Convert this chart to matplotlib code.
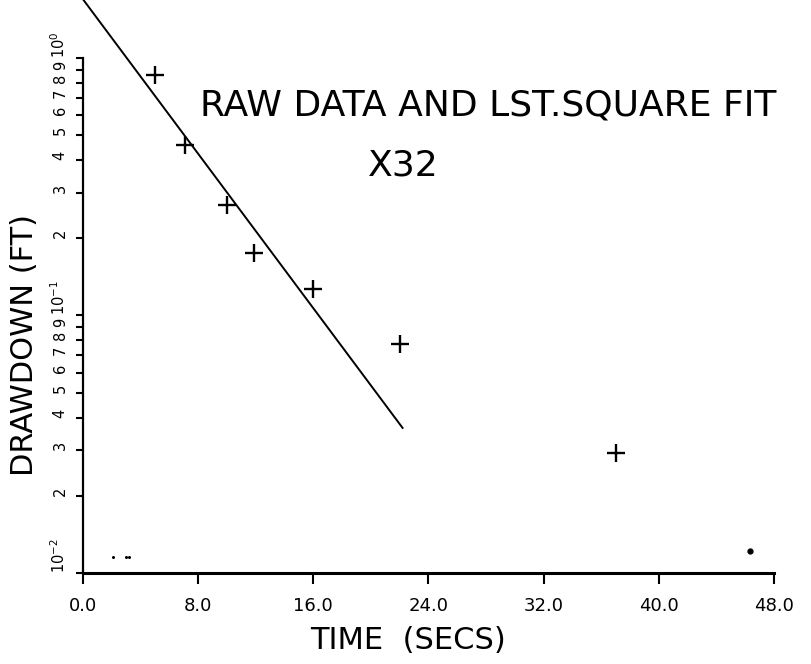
import matplotlib
matplotlib.use("Agg")
import matplotlib.pyplot as plt
from matplotlib.ticker import FixedLocator, FixedFormatter

# ---- data ----
time_s = [5.0, 7.1, 10.0, 11.9, 16.0, 22.0, 37.0]
drawdown_ft = [0.86, 0.46, 0.268, 0.175, 0.127, 0.0774, 0.0292]
dot_time = [46.3]
dot_drawdown = [0.0122]
speck_time = [2.1, 3.0, 3.2]
speck_drawdown = [0.0115, 0.0115, 0.0115]
fit_time = [0.0, 22.2]
fit_drawdown = [1.69, 0.0366]

x_ticks = [0, 8, 16, 24, 32, 40, 48]
x_tick_labels = ["0.0", "8.0", "16.0", "24.0", "32.0", "40.0", "48.0"]
y_major = [0.01, 0.1, 1.0]
y_major_labels = ["$10^{-2}$", "$10^{-1}$", "$10^{0}$"]
y_minor = [m * d for d in (0.01, 0.1) for m in range(2, 10)]
y_minor_labels = [str(m) for d in (0.01, 0.1) for m in range(2, 10)]

title_line1 = "RAW DATA AND LST.SQUARE FIT"
title_line2 = "X32"
x_label = "TIME  (SECS)"
y_label = "DRAWDOWN (FT)"

plt.rcParams['font.family'] = ['DejaVu Sans']

fig = plt.figure(figsize=(8.11, 6.64), dpi=100)
ax = fig.add_axes([0.1023, 0.137, 0.8521, 0.7757])

ax.plot(fit_time, fit_drawdown, color="black", lw=1.4, clip_on=False)
ax.plot(time_s, drawdown_ft, linestyle="none", marker="+", ms=13, mew=1.7, color="black")
ax.plot(dot_time, dot_drawdown, linestyle="none", marker="o", ms=3.5, color="black")
ax.plot(speck_time, speck_drawdown, linestyle="none", marker="o", ms=1.2, color="black")

ax.set_yscale("log")
ax.set_xlim(0, 48)
ax.set_ylim(0.01, 1.0)

ax.set_xticks(x_ticks)
ax.set_xticklabels(x_tick_labels, fontsize=13)
ax.yaxis.set_major_locator(FixedLocator(y_major))
ax.yaxis.set_major_formatter(FixedFormatter(y_major_labels))
ax.yaxis.set_minor_locator(FixedLocator(y_minor))
ax.yaxis.set_minor_formatter(FixedFormatter(y_minor_labels))
ax.tick_params(axis="x", which="major", direction="out", length=8, width=1.5, pad=9)
ax.tick_params(axis="y", which="both", direction="out", length=5, width=1.5,
               labelrotation=90, labelsize=10.5, pad=6)
for lbl in ax.get_yticklabels(which="both"):
    lbl.set_verticalalignment("bottom")

for s in ("top", "right"):
    ax.spines[s].set_visible(False)
ax.spines["left"].set_linewidth(1.6)
ax.spines["bottom"].set_linewidth(2.2)

ax.set_xlabel(x_label, fontsize=22)
ax.xaxis.set_label_coords((408 - 83) / 691, -(640 - 573) / 515)
ax.xaxis.label.set_verticalalignment("center")
ax.set_ylabel(y_label, fontsize=22, va="center")
ax.yaxis.set_label_coords((25 - 83) / 691, (573 - 345) / 515)

fig.text(200 / 811, 1 - 106 / 664, title_line1, fontsize=26, ha="left", va="center")
fig.text(403 / 811, 1 - 165 / 664, title_line2, fontsize=26, ha="center", va="center")

fig.savefig("out.png", dpi=100)
